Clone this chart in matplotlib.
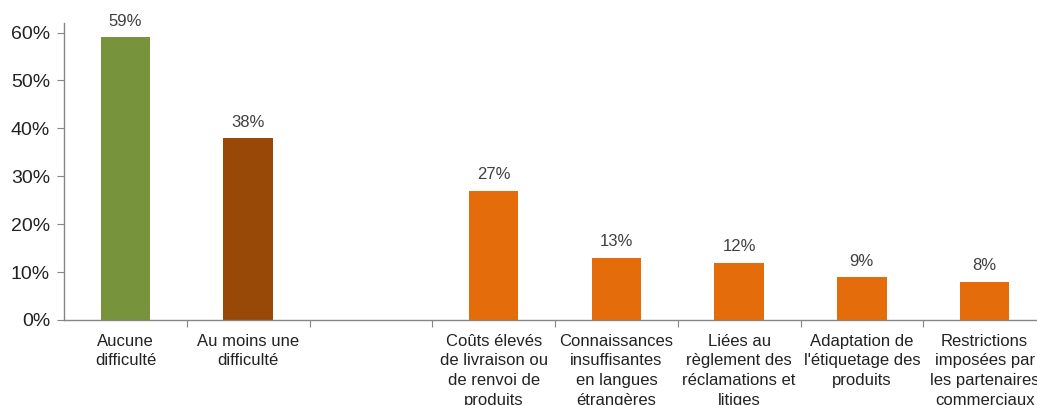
import matplotlib

matplotlib.use("Agg")
import matplotlib.pyplot as plt

plt.rcParams["font.family"] = ["Liberation Sans", "DejaVu Sans"]

# Share of firms by difficulty met (%); the empty slot separates the two groups
categories = [
    "Aucune\ndifficulté",
    "Au moins une\ndifficulté",
    "",
    "Coûts élevés\nde livraison ou\nde renvoi de\nproduits",
    "Connaissances\ninsuffisantes\nen langues\nétrangères",
    "Liées au\nrèglement des\nréclamations et\nlitiges",
    "Adaptation de\nl'étiquetage des\nproduits",
    "Restrictions\nimposées par\nles partenaires\ncommerciaux",
]
values = [59, 38, None, 27, 13, 12, 9, 8]
colors = ["#77933C", "#984807", None] + ["#E46C0A"] * 5

W, H = 1037, 405
fig = plt.figure(figsize=(W / 100, H / 100), dpi=100)
# axes run slightly past the right edge of the canvas
ax = fig.add_axes([64 / W, (H - 320) / H, 982 / W, 297 / H])

for i, (v, c) in enumerate(zip(values, colors)):
    if v is None:
        continue
    ax.bar(i, v / 100, width=0.405, color=c, zorder=2)
    ax.annotate(f"{v}%", (i, v / 100), xytext=(0, 6), textcoords="offset points",
                ha="center", va="bottom", fontsize=12, color="#404040")

ax.set_xlim(-0.5, len(categories) - 0.5)
ax.set_ylim(0, 0.62)
ax.set_yticks([0, 0.1, 0.2, 0.3, 0.4, 0.5, 0.6])
ax.set_yticklabels([f"{int(t * 100)}%" for t in ax.get_yticks()], fontsize=14, color="#222222")

# tick marks sit on category boundaries, labels at category centres
ax.set_xticks([i + 0.5 for i in range(len(categories))])
ax.set_xticklabels([])
ax.set_xticks(range(len(categories)), minor=True)
ax.set_xticklabels(categories, minor=True, fontsize=12, color="#222222", linespacing=1.38,
                   va="top")
ax.tick_params(axis="x", which="minor", length=0, pad=10)
ax.tick_params(axis="x", which="major", length=5, color="#868686", direction="out")
ax.tick_params(axis="y", length=5, color="#868686", pad=5)

for side in ("top", "right"):
    ax.spines[side].set_visible(False)
for side in ("left", "bottom"):
    ax.spines[side].set_color("#868686")
    ax.spines[side].set_linewidth(1.0)

fig.savefig("out.png", dpi=100)
